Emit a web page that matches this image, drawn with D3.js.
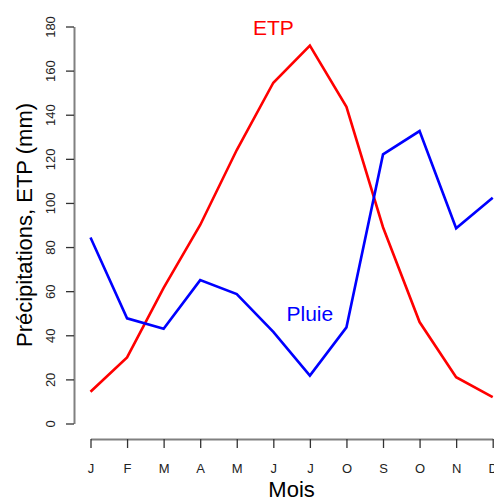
<!DOCTYPE html>
<html>
<head>
<meta charset="utf-8">
<script src="https://cdn.jsdelivr.net/npm/d3@7"></script>
<style>
  html, body { margin: 0; padding: 0; background: #fff; }
  svg { display: block; font-family: "Liberation Sans", Arial, sans-serif; }
</style>
</head>
<body>
<svg id="chart" width="494" height="498"></svg>
<script>
// month labels as printed on the chart (8th is "O" in the original)
const months = ["J", "F", "M", "A", "M", "J", "J", "O", "S", "O", "N", "D"];
const etp = [14.4, 30, 61.5, 90, 124, 154.5, 171.3, 143.6, 89, 46, 21, 12];
const pluie = [84.3, 47.7, 43, 65, 58.7, 41.5, 21.7, 43.6, 122, 132.6, 88.5, 102.4];
const yTicks = [0, 20, 40, 60, 80, 100, 120, 140, 160, 180];

const svg = d3.select("#chart");

const x = d3.scaleLinear().domain([1, 12]).range([90.5, 492.7]);
const y = d3.scaleLinear().domain([0, 180]).range([423.5, 26.5]);

// y axis
const yAxis = svg.append("g")
    .attr("transform", "translate(74,0)")
    .call(d3.axisLeft(y).tickValues(yTicks).tickSize(8).tickSizeOuter(0).tickPadding(0));
yAxis.select(".domain").attr("stroke", "#808080").attr("stroke-width", 2);
yAxis.selectAll(".tick line").attr("stroke", "#333").attr("stroke-width", 1.3);
yAxis.selectAll(".tick text")
    .attr("x", null).attr("dy", null)
    .attr("transform", "translate(-19,0) rotate(-90)")
    .attr("text-anchor", "middle")
    .attr("fill", "#222")
    .style("font-size", "13px");

// x axis
const xAxis = svg.append("g")
    .attr("transform", "translate(0,439)")
    .call(d3.axisBottom(x).tickValues(d3.range(1, 13)).tickSize(9).tickSizeOuter(0)
        .tickFormat(d => months[d - 1]));
xAxis.select(".domain").attr("stroke", "#808080").attr("stroke-width", 2);
xAxis.selectAll(".tick line").attr("stroke", "#333").attr("stroke-width", 1.3);
xAxis.selectAll(".tick text")
    .attr("y", 34).attr("dy", null)
    .attr("fill", "#222")
    .style("font-size", "13px");

// lines
const line = d3.line().x((d, i) => x(i + 1)).y(d => y(d));

svg.append("path")
    .datum(etp)
    .attr("d", line)
    .attr("fill", "none")
    .attr("stroke", "#ff0000")
    .attr("stroke-width", 2.6);

svg.append("path")
    .datum(pluie)
    .attr("d", line)
    .attr("fill", "none")
    .attr("stroke", "#0000ff")
    .attr("stroke-width", 2.6);

// series labels
svg.append("text")
    .attr("x", x(6)).attr("y", y(180) + 8)
    .attr("text-anchor", "middle")
    .attr("fill", "#ff0000")
    .style("font-size", "21px")
    .text("ETP");

svg.append("text")
    .attr("x", x(7)).attr("y", y(50) + 8)
    .attr("text-anchor", "middle")
    .attr("fill", "#0000ff")
    .style("font-size", "21px")
    .text("Pluie");

// axis titles
svg.append("text")
    .attr("transform", `translate(32,${(y(0) + y(180)) / 2}) rotate(-90)`)
    .attr("text-anchor", "middle")
    .attr("fill", "#000")
    .style("font-size", "22px")
    .text("Précipitations, ETP (mm)");

svg.append("text")
    .attr("x", (x(1) + x(12)) / 2).attr("y", 497)
    .attr("text-anchor", "middle")
    .attr("fill", "#000")
    .style("font-size", "22px")
    .text("Mois");
</script>
</body>
</html>
